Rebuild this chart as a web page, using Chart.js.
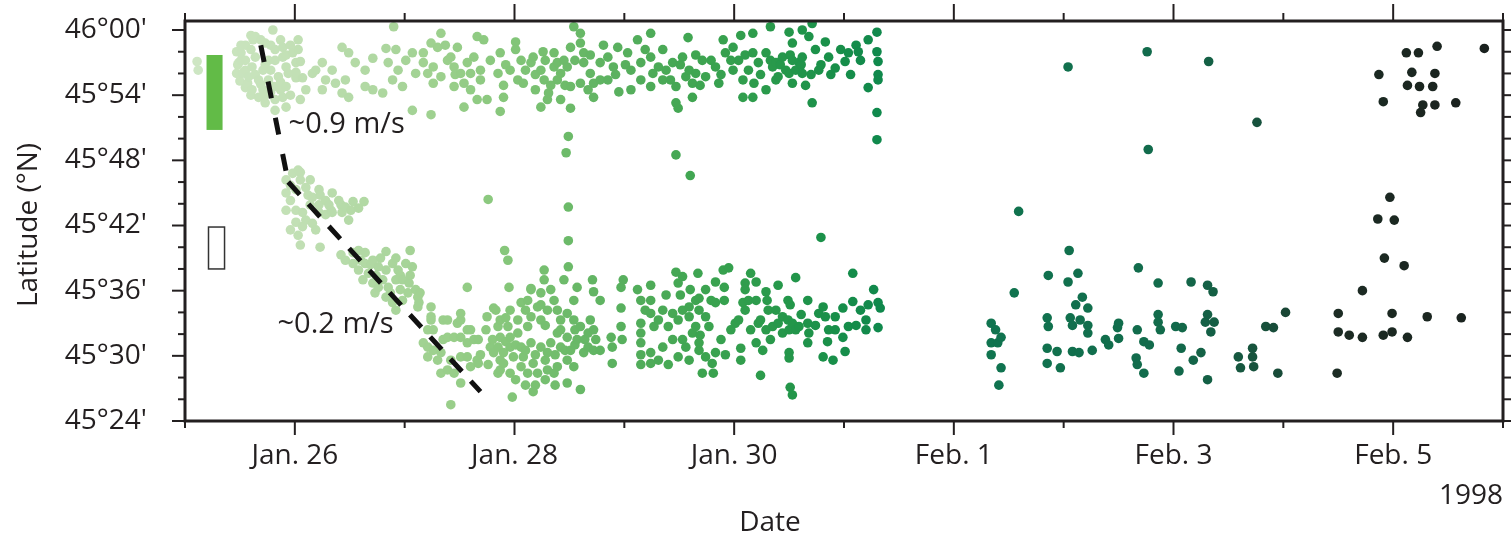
<!DOCTYPE html>
<html>
<head>
<meta charset="utf-8">
<script src="https://cdn.jsdelivr.net/npm/chart.js@4.4.1/dist/chart.umd.min.js"></script>
<style>
  html, body { margin: 0; padding: 0; background: #fff; }
  #wrap { width: 1512px; height: 539px; }
</style>
</head>
<body>
<div id="wrap"><canvas id="grafico" width="1512" height="539"></canvas></div>
<script>
// x = days since Jan. 25 1998 00:00, y = arcminutes north of 45°N

// tick labels
const dateTickDays = [1, 3, 5, 7, 9, 11];
const dateTickLabels = ['Jan. 26', 'Jan. 28', 'Jan. 30', 'Feb. 1', 'Feb. 3', 'Feb. 5'];
const latTickMinutes = [24, 30, 36, 42, 48, 54, 60];

// swarm at the start (Jan. 25)
const swarmJan25 = [
  [0.11,57.1],[0.12,56.3],[0.80,60.0],[0.64,59.4],[0.55,58.6],[0.51,57.9],[0.49,57.0],[0.52,56.0],
  [0.57,55.1],[0.61,54.5],[0.67,53.8],[0.73,53.3],[0.82,53.6],[0.81,54.8],[0.85,55.7],[0.92,56.6],
  [0.89,57.5],[0.82,58.2],[0.73,58.8],[0.89,58.4],[0.98,57.9],[1.03,58.2],[1.01,57.0],[0.94,56.0],
  [0.92,54.8],[0.89,53.8],[0.76,57.2],[0.71,56.3],[0.61,56.6],[0.64,57.5],[0.58,55.7],[0.67,55.4],
  [0.76,55.4],[0.71,54.5],[1.01,55.6],[0.92,52.9],[1.03,59.1],[0.60,58.2],[0.55,57.2],[0.78,56.3],
  [0.87,54.5],[0.47,58.0],[0.47,56.0],[0.48,56.8],[0.50,55.3],[0.62,59.1],
  [0.51,58.6],[0.60,59.5],[0.69,59.1],[0.78,58.6],[0.87,59.1],[0.96,58.6],[0.55,56.3],[0.64,55.9],
  [0.73,56.8],[0.82,57.2],[0.92,57.7],[1.01,56.1],[0.69,55.0],[0.78,54.3],[0.87,55.2],[0.96,54.0],
  [0.82,52.6],[0.73,54.0],[0.60,54.0],[0.55,54.7],[0.51,57.2],[1.05,57.1],[1.10,54.5],[1.05,53.6]
];

// northern band, Jan. 26 - Jan. 31
const northBand = [
  [1.07,55.6],[1.16,56.0],[1.25,57.0],[1.28,55.4],[1.25,54.5],[1.34,56.3],[1.43,58.4],[1.49,57.9],
  [1.46,55.4],[1.43,54.2],[1.49,53.8],[1.55,57.0],[1.64,56.3],[1.71,57.4],[1.71,54.5],[1.80,54.2],
  [1.83,58.3],[1.85,57.0],[1.89,55.4],[1.92,58.2],[1.94,56.3],[1.98,54.8],[2.01,57.2],[2.07,57.9],
  [2.10,56.0],[2.07,52.6],[1.90,60.3],[1.64,54.8],[1.37,55.1],[1.19,56.3],
  [2.33,59.7],[2.24,58.8],[2.30,58.4],[2.17,57.0],[2.21,56.0],[2.26,56.6],[2.33,55.7],[2.26,55.1],
  [2.39,57.2],[2.45,56.6],[2.48,58.4],[2.51,56.0],[2.45,54.8],[2.54,55.1],[2.57,57.0],[2.63,57.5],
  [2.66,59.4],[2.72,59.1],[2.69,56.3],[2.69,55.4],[2.54,52.9],[2.66,53.6],[2.75,53.6],[2.24,52.2],
  [2.85,56.0],[2.87,57.9],[2.90,54.9],[2.90,53.8],[2.96,56.3],[3.01,58.2],[3.01,58.9],[2.87,52.5],
  [3.03,55.4],[3.08,55.1],[3.15,57.0],[3.17,57.5],[3.19,54.5],[3.24,56.3],[3.26,58.0],[3.24,52.9],
  [3.30,53.6],[3.27,55.4],[3.31,54.2],[3.36,57.9],[3.36,56.6],[3.39,55.4],[3.42,56.0],[3.42,53.6],
  [3.45,57.2],[3.51,54.8],[3.51,52.8],[3.48,56.6],[3.51,58.4],[3.54,60.3],[3.60,59.7],[3.60,58.8],
  [3.63,57.9],[3.63,57.0],[3.60,55.1],[3.69,56.0],[3.67,54.5],[3.72,53.8],[3.72,55.1],[3.78,57.0],
  [3.81,58.6],[3.85,57.5],[3.85,55.4],[3.90,56.6],[3.94,58.4],[3.95,54.3],[4.03,57.9],[4.06,56.3],
  [4.12,59.1],[4.15,57.0],[4.24,59.7],[4.24,57.5],[4.26,56.0],[4.24,54.8],[3.39,57.0],[2.42,57.5],
  [2.17,57.9],[2.60,56.0],
  [2.37,58.6],[2.46,55.9],[2.60,54.5],[2.78,57.2],[2.92,56.8],[3.06,57.2],[3.10,56.3],[3.19,55.9],
  [3.28,57.2],[3.33,54.9],[3.46,54.9],[3.55,57.2],[3.69,57.7],[3.78,55.4],[3.92,55.9],[4.01,56.8],
  [4.15,55.4],[4.19,58.2],[4.06,54.5],
  [4.35,58.2],[4.31,56.6],[4.35,55.4],[4.44,57.0],[4.47,54.8],[4.47,53.3],[4.49,52.8],[4.53,57.5],
  [4.58,59.3],[4.59,56.3],[4.62,55.1],[4.62,53.8],[4.71,57.2],[4.74,55.7],[4.83,56.6],[4.86,55.1],
  [4.90,59.1],[4.92,57.9],[4.99,58.4],[4.99,56.3],[5.04,57.2],[5.08,55.4],[5.06,59.5],[5.13,56.3],
  [5.17,59.7],[5.17,57.9],[5.18,55.1],[5.17,53.8],[5.22,57.0],[5.29,54.5],[5.29,57.9],[5.33,60.3],
  [5.35,56.6],[5.38,55.4],[5.44,57.5],[5.47,56.3],[5.50,59.8],[5.53,58.8],[5.53,55.1],[5.59,57.0],
  [5.62,60.0],[5.62,56.0],[5.68,59.4],[5.71,60.6],[5.71,53.3],[5.74,58.2],[5.77,56.3],[5.83,58.9],
  [5.86,57.5],[5.92,56.5],[6.01,57.1],[6.04,57.9],[6.13,58.0],[6.22,59.1],[6.22,54.7],[6.30,59.8],
  [6.30,58.0],[6.31,57.1],[6.31,55.9],[6.31,55.4],[5.56,56.3],[5.38,57.0],[5.40,55.7],[5.50,56.0],
  [5.53,57.2],[5.62,57.5],[4.65,56.0],[4.56,55.7],[4.38,56.3],[5.08,53.8],
  [4.42,55.4],[4.51,56.8],[4.65,57.7],[4.79,57.2],[4.69,54.9],[4.88,55.9],[4.97,57.2],[5.10,57.7],
  [5.24,55.9],[5.33,57.2],[5.42,56.8],[5.51,57.7],[5.61,56.8],[5.70,55.9],[5.65,54.9],[5.79,56.8],
  [5.88,55.9],[5.97,58.2],[6.06,55.9],[6.15,57.2],[6.11,58.6]
];

// southward migrating front, Jan. 25.9 - Jan. 27.7
const migrationFront = [
  [0.92,46.2],[0.98,46.8],[1.03,47.1],[0.92,45.0],[1.01,45.3],[1.10,45.5],[1.16,44.6],[1.22,45.3],
  [1.28,44.3],[1.34,45.0],[1.40,44.3],[1.46,43.7],[1.53,44.2],[1.63,44.2],[0.92,43.4],[1.01,43.4],
  [1.07,43.2],[1.22,43.2],[1.34,43.2],[1.43,43.2],[1.05,46.9],[1.07,41.9],[1.16,42.2],[1.03,41.1],
  [1.23,40.0],[1.49,42.5],[1.22,43.9],[1.33,43.4],[1.14,43.9],[0.96,44.3],
  [0.96,45.7],[1.05,46.2],[1.12,44.8],[1.23,44.8],[1.31,43.9],[1.42,43.9],[1.51,43.4],[1.58,43.6],
  [1.10,42.5],[1.01,42.3],[1.28,43.0],[1.19,41.6],[1.05,40.2],[0.96,41.6],[1.14,46.2],
  [1.53,39.5],[1.58,39.7],[1.64,39.5],[1.71,38.8],[1.53,38.5],[1.58,37.9],[1.67,37.6],[1.76,38.2],
  [1.83,37.9],[1.89,38.5],[1.94,37.9],[2.01,38.5],[2.07,38.2],[1.80,37.0],[1.85,36.3],[1.73,35.8],
  [1.83,35.4],[1.89,34.9],[1.98,37.0],[2.04,36.7],[1.83,39.6],[2.05,39.7],[1.64,38.5],[1.76,36.3],
  [1.98,35.1],[2.10,36.1],[2.13,34.9],[1.46,38.8],[1.92,37.0],[1.71,36.7],
  [1.60,38.8],[1.69,38.4],[1.78,39.0],[1.92,39.0],[1.96,37.4],[1.74,37.4],[1.87,35.8],[1.96,36.1],
  [2.05,37.4],[1.42,39.3],[1.62,37.0],[1.92,34.2],
  [2.17,31.2],[2.26,30.5],[2.35,31.5],[2.45,31.7],[2.51,33.3],[2.57,32.4],[2.63,31.5],[2.21,29.9],
  [2.30,29.6],[2.42,29.6],[2.51,29.9],[2.60,29.0],[2.66,29.6],[2.39,28.7],[2.51,27.5],[2.42,25.5],
  [2.24,33.3],[2.39,33.3],[2.51,33.9],[2.12,34.5],[2.03,35.8],[2.12,35.4],[2.26,32.4],[2.24,34.5],
  [2.24,33.6],[2.21,32.4],[2.14,35.8],[2.35,33.3],[2.39,31.7],[2.33,30.3],[2.48,33.0],[2.51,31.7],
  [2.57,31.2],[2.60,32.4],[2.57,36.3],[2.67,31.5],[2.67,29.3],[2.21,30.8],[2.33,28.4],[2.45,28.4],
  [2.57,29.9]
];

// southern band, Jan. 27.8 - Jan. 31
const southBand = [
  [2.95,36.3],[2.83,34.2],[2.75,33.6],[2.87,33.3],[2.96,34.2],[3.06,34.9],[3.12,35.1],[3.15,36.1],
  [3.24,35.8],[3.21,34.5],[3.03,33.3],[2.94,32.7],[2.87,31.7],[2.78,30.8],[2.81,30.3],[2.90,30.3],
  [2.96,30.8],[3.03,32.1],[3.12,32.7],[3.15,33.6],[3.24,33.3],[3.30,34.2],[3.36,35.1],[3.39,34.2],
  [3.42,33.3],[3.48,33.9],[3.54,35.1],[3.54,33.3],[3.60,32.7],[3.67,32.1],[3.72,32.4],[3.67,30.8],
  [3.57,31.5],[3.48,31.7],[3.39,32.1],[3.33,31.2],[3.24,30.8],[3.15,31.2],[3.06,30.8],[2.99,29.9],
  [2.90,29.3],[2.85,28.4],[2.96,28.4],[3.06,29.0],[3.17,29.3],[3.21,28.4],[3.30,28.7],[3.39,29.0],
  [3.48,29.6],[3.54,29.0],[3.63,30.3],[3.72,30.5],[3.48,27.5],[3.60,26.9],[3.19,27.3],[3.17,26.7],
  [2.98,26.2],[3.45,37.0],[3.27,37.9],[3.27,37.0],[3.15,36.2],[3.57,36.3],[3.71,37.0],[3.72,35.9],
  [2.81,34.4],[2.85,32.7],[2.96,31.7],[3.08,29.9],[3.30,30.3],[3.42,30.8],[3.51,30.5],[3.12,28.4],
  [3.36,28.4],[2.85,30.8],[2.87,29.6],[3.88,31.7],[3.89,30.8],[3.89,29.3],[3.97,36.3],[3.97,34.4],
  [3.99,37.0],[3.97,32.7],[3.98,31.5],
  [2.74,32.4],[2.80,31.5],[2.92,31.3],[3.01,31.0],[3.10,30.5],[3.19,30.1],[3.28,29.6],[3.37,30.1],
  [3.46,30.5],[3.55,31.0],[3.64,31.5],[3.74,31.5],[2.87,28.7],[3.01,27.8],[3.10,27.3],[3.28,27.8],
  [3.37,27.3],[2.69,30.1],[2.76,29.2],[2.92,33.5],[3.10,34.2],[3.28,32.8],[3.42,32.4],[3.55,32.4],
  [3.69,33.3],[3.78,35.1],[3.78,30.5],[3.24,34.7],[3.33,36.1],
  [4.12,36.1],[4.15,35.1],[4.24,36.5],[4.24,35.1],[4.24,33.9],[4.27,32.7],[4.15,33.0],[4.15,32.1],
  [4.15,31.2],[4.15,30.1],[4.15,29.2],[4.24,30.3],[4.24,29.3],[4.47,37.7],[4.53,37.3],[4.49,36.7],
  [4.67,37.6],[4.83,36.8],[4.90,37.9],[4.95,38.1],[4.91,36.3],[4.91,35.1],[4.83,34.9],[4.68,35.3],
  [4.59,34.5],[4.53,34.2],[4.44,33.9],[4.35,34.2],[4.31,33.3],[4.40,32.7],[4.49,33.3],[4.59,33.6],
  [4.65,32.7],[4.74,33.6],[4.77,32.7],[4.62,32.1],[4.53,31.5],[4.44,31.5],[4.35,30.8],[4.31,29.6],
  [4.40,29.2],[4.49,29.9],[4.59,29.6],[4.68,30.5],[4.74,29.9],[4.80,29.3],[4.83,30.3],[4.71,28.4],
  [4.81,28.4],[4.68,31.2],[4.56,30.8],[5.04,33.3],[5.10,34.2],[5.08,34.9],[5.13,35.1],[5.20,35.1],
  [5.10,36.7],[5.15,37.6],[5.20,36.8],[5.10,36.1],[5.06,30.7],[5.06,29.6],[5.20,31.2],[5.26,30.5],
  [5.24,28.2],[5.01,33.0],[4.65,35.1],[4.68,34.2],
  [4.19,34.2],[4.38,35.6],[4.51,35.6],[4.60,36.1],[4.74,36.1],[4.79,35.1],[4.69,31.9],[4.88,31.5],
  [4.92,30.1],[4.97,32.4],[5.15,32.4],[5.24,33.3],[5.38,34.2],[5.51,34.7],[5.61,33.8],[5.74,32.8],
  [5.92,32.4],[6.11,32.8],[6.15,34.2],[5.33,31.5],
  [5.29,35.9],[5.30,35.1],[5.31,34.2],[5.22,33.0],[5.29,32.4],[5.35,32.7],[5.40,33.0],[5.44,33.6],
  [5.49,33.3],[5.53,33.0],[5.56,32.4],[5.50,32.4],[5.44,32.1],[5.40,36.5],[5.49,35.1],[5.56,37.2],
  [5.67,35.1],[5.50,30.3],[5.50,29.8],[5.51,27.1],[5.53,26.4],[5.59,32.7],[5.67,33.0],[5.68,32.1],
  [5.67,31.2],[5.77,33.9],[5.81,34.5],[5.83,33.6],[5.86,32.4],[5.85,31.3],[5.81,29.9],[5.90,29.6],
  [5.92,33.6],[5.99,34.4],[5.99,31.7],[6.01,30.4],[6.04,32.7],[6.08,35.0],[6.08,37.6],[6.20,33.3],
  [6.20,32.4],[6.22,34.7],[6.27,36.1],[6.31,34.9],[6.33,34.4],[6.31,32.6]
];

// scattered events between the bands
const isolatedEvents = [
  [3.49,50.2],[3.47,48.7],[3.49,43.7],[3.49,40.6],[3.49,38.2],[2.91,39.7],[2.94,38.8],[2.76,44.4],
  [4.47,48.5],[4.60,46.6],[5.79,40.9],[6.30,52.4],[6.30,49.9],[7.59,43.3]
];

// Feb. 1 - Feb. 6
const eventsAfterFeb1 = [
  [7.55,35.8],[7.34,33.0],[7.38,32.4],[7.43,31.7],[7.34,31.2],[7.40,31.2],[7.34,30.1],[7.43,28.9],
  [7.41,27.3],[7.86,37.4],[8.04,36.8],[8.13,37.6],[7.85,33.5],[7.86,32.7],[8.06,33.5],[8.08,32.8],
  [8.11,34.7],[8.17,35.4],[8.15,33.3],[8.22,34.4],[8.22,32.8],[8.22,32.1],[7.85,30.7],[7.94,30.4],
  [8.08,30.4],[8.14,30.3],[8.26,30.5],[7.85,29.3],[7.97,28.9],[8.38,31.5],[8.41,31.0],[8.50,33.0],
  [8.49,32.6],[8.50,31.6],[8.67,32.4],[8.73,31.3],[8.78,31.0],[8.66,29.8],[8.67,29.2],[8.73,28.4],
  [8.68,38.1],[8.86,36.7],[8.86,33.8],[8.86,33.1],[8.88,32.4],[9.02,32.7],[9.08,32.6],[9.07,30.7],
  [9.18,29.6],[9.05,28.6],[9.16,36.8],[9.25,30.3],[9.31,27.8],[9.31,36.5],[9.36,35.9],[9.31,33.8],
  [9.29,33.1],[9.37,33.1],[9.34,32.2],[9.59,29.9],[9.61,28.9],[9.72,30.7],[9.72,29.9],[9.73,29.0],
  [9.84,32.7],[9.91,32.6],[10.02,34.0],[9.95,28.4],[10.50,33.9],[10.50,32.2],[10.60,31.9],[10.72,31.7],
  [10.49,28.4],[10.72,36.0],[10.91,31.9],[10.99,32.2],[10.99,33.9],[11.13,31.7],[11.31,33.6],[11.62,33.5],
  [8.04,56.6],[8.05,39.7],[8.76,58.0],[8.77,49.0],[9.32,57.1],[9.76,51.5],[10.87,55.9],[10.91,53.4],
  [11.12,57.9],[11.23,57.9],[11.40,58.5],[11.17,56.1],[11.38,56.0],[11.13,54.9],[11.24,54.8],[11.36,54.8],
  [11.27,53.1],[11.38,53.1],[11.25,52.4],[11.57,53.3],[11.83,58.3],[10.97,44.6],[10.86,42.6],[11.01,42.5],
  [10.92,39.0],[11.10,38.3]
];

// migration fronts (dashed)
const fastFrontDays = [0.69, 0.94];
const fastFrontLat = [58.6, 46.0];
const slowFrontDays = [0.94, 2.69];
const slowFrontLat = [46.0, 26.7];

const INK = '#231f20';
const FONT = "'Open Sans', sans-serif";

// colour ramp by time (light green -> dark)
const rampe = [
  [0, '#cfe7c5'], [1.0, '#c2e0b5'], [1.7, '#b0d8a2'], [2.3, '#9dd08e'], [2.9, '#87c77b'],
  [3.5, '#6cba69'], [4.1, '#53ad5b'], [4.7, '#3da450'], [5.3, '#2a9a4b'], [5.9, '#188f49'],
  [6.35, '#0f884c'], [7.3, '#10744f'], [9.0, '#126a4b'], [9.9, '#184e3a'], [10.4, '#1c2d24'],
  [12, '#1a201d']
];
function hexRgb(h) { return [1, 3, 5].map(i => parseInt(h.substr(i, 2), 16)); }
function corDoDia(d) {
  for (let i = 1; i < rampe.length; i++) {
    if (d <= rampe[i][0]) {
      const [d0, c0] = rampe[i - 1], [d1, c1] = rampe[i];
      const t = Math.max(0, (d - d0) / (d1 - d0));
      const a = hexRgb(c0), b = hexRgb(c1);
      return 'rgb(' + a.map((v, k) => Math.round(v + (b[k] - v) * t)).join(',') + ')';
    }
  }
  return rampe[rampe.length - 1][1];
}

function latLabel(v) {
  const deg = 45 + Math.floor(v / 60);
  const mm = Math.round(v % 60);
  return deg + '°' + String(mm).padStart(2, '0') + "'";
}

const todos = [...swarmJan25, ...northBand, ...migrationFront, ...southBand, ...isolatedEvents, ...eventsAfterFeb1]
  .map(([x, y]) => ({ x, y }))
  .sort((a, b) => a.x - b.x);

const pontos = (xs, ys) => xs.map((x, i) => ({ x, y: ys[i] }));

// frame, outward ticks, titles and annotations
const moldura = {
  id: 'moldura',
  afterDatasetsDraw(chart) {
    const { ctx, scales: { x, y } } = chart;
    ctx.save();
    // green bar marker
    let x0 = x.getPixelForValue(0.196), x1 = x.getPixelForValue(0.342);
    let y0 = y.getPixelForValue(57.7), y1 = y.getPixelForValue(50.8);
    ctx.fillStyle = '#62bb47';
    ctx.fillRect(x0, y0, x1 - x0, y1 - y0);
    // hollow marker
    x0 = x.getPixelForValue(0.214); x1 = x.getPixelForValue(0.36);
    y0 = y.getPixelForValue(41.86); y1 = y.getPixelForValue(38.0);
    ctx.strokeStyle = '#333';
    ctx.lineWidth = 1.5;
    ctx.strokeRect(x0, y0, x1 - x0, y1 - y0);
    // speed labels
    ctx.fillStyle = INK;
    ctx.font = '29px ' + FONT;
    ctx.textAlign = 'left';
    ctx.textBaseline = 'middle';
    ctx.fillText('~0.9 m/s', x.getPixelForValue(0.943), y.getPixelForValue(51.26));
    ctx.fillText('~0.2 m/s', x.getPixelForValue(0.842), y.getPixelForValue(32.84));
    ctx.restore();
  },
  afterDraw(chart) {
    const { ctx, chartArea: a, scales: { x, y } } = chart;
    ctx.save();
    ctx.strokeStyle = INK;
    ctx.lineWidth = 3;
    ctx.strokeRect(a.left, a.top, a.right - a.left, a.bottom - a.top);
    ctx.lineWidth = 2;
    const seg = (xa, ya, xb, yb) => { ctx.beginPath(); ctx.moveTo(xa, ya); ctx.lineTo(xb, yb); ctx.stroke(); };
    for (let d = x.min; d <= x.max; d++) {
      const px = x.getPixelForValue(d);
      const major = dateTickDays.includes(d);
      seg(px, a.bottom, px, a.bottom + (major ? 14 : 7));
      seg(px, a.top, px, a.top - (major ? 17 : 8));
    }
    for (let m = 24; m <= 60; m += 2) {
      const py = y.getPixelForValue(m);
      const major = latTickMinutes.includes(m);
      seg(a.left, py, a.left - (major ? 13 : 7), py);
      seg(a.right, py, a.right + 8, py);
    }
    // titles
    ctx.fillStyle = INK;
    ctx.font = '28px ' + FONT;
    ctx.textBaseline = 'middle';
    ctx.textAlign = 'center';
    ctx.fillText('Date', 770, 523);
    ctx.textAlign = 'right';
    ctx.fillText('1998', a.right, 496);
    ctx.translate(29, (a.top + a.bottom) / 2 + 4);
    ctx.rotate(-Math.PI / 2);
    ctx.textAlign = 'center';
    ctx.fillText('Latitude (°N)', 0, 0);
    ctx.restore();
  }
};

Chart.defaults.font.family = FONT;
Chart.defaults.color = INK;

new Chart(document.getElementById('grafico'), {
  type: 'scatter',
  data: {
    datasets: [
      {
        label: 'fast front',
        data: pontos(fastFrontDays, fastFrontLat),
        showLine: true, borderColor: '#111', borderWidth: 5, borderDash: [17, 20],
        pointRadius: 0, order: 0
      },
      {
        label: 'slow front',
        data: pontos(slowFrontDays, slowFrontLat),
        showLine: true, borderColor: '#111', borderWidth: 5, borderDash: [17, 13],
        pointRadius: 0, order: 0
      },
      {
        label: 'events',
        data: todos,
        pointRadius: 4.8, pointHoverRadius: 4.8, borderWidth: 0,
        backgroundColor: c => corDoDia(c.raw ? c.raw.x : 0),
        order: 1
      }
    ]
  },
  options: {
    responsive: false,
    animation: false,
    devicePixelRatio: 1,
    layout: { padding: { top: 21, right: 9, left: 0, bottom: 0 } },
    plugins: { legend: { display: false }, tooltip: { enabled: false } },
    scales: {
      x: {
        type: 'linear', min: 0, max: 12,
        afterFit: s => { s.height = 118; s.paddingLeft = 0; s.paddingRight = 0; },
        afterBuildTicks: s => { s.ticks = dateTickDays.map(v => ({ value: v })); },
        grid: { display: false, drawTicks: false },
        border: { display: false },
        ticks: {
          padding: 18, maxRotation: 0, autoSkip: false, font: { size: 28 },
          callback: v => dateTickLabels[dateTickDays.indexOf(v)]
        }
      },
      y: {
        type: 'linear', min: 24, max: 60.83,
        afterFit: s => { s.width = 185; s.paddingTop = 0; s.paddingBottom = 0; },
        afterBuildTicks: s => { s.ticks = latTickMinutes.map(v => ({ value: v })); },
        grid: { display: false, drawTicks: false },
        border: { display: false },
        ticks: { padding: 38, font: { size: 28 }, callback: v => latLabel(v) }
      }
    }
  },
  plugins: [moldura]
});
</script>
</body>
</html>
